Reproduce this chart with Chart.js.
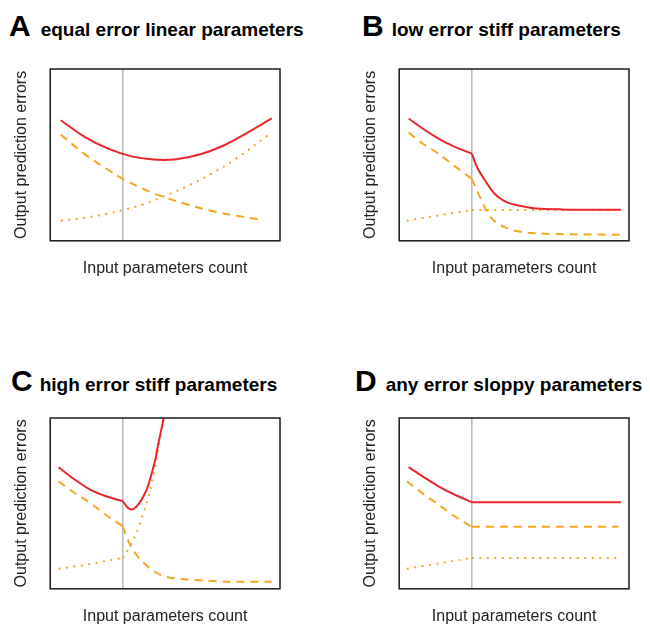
<!DOCTYPE html>
<html>
<head>
<meta charset="utf-8">
<script src="https://cdn.jsdelivr.net/npm/chart.js@4"></script>
<style>
  body { margin: 0; background: #fff; width: 650px; height: 626px; overflow: hidden; font-family: "Liberation Sans", Arial, sans-serif; }
  .panel-title { position: absolute; font-weight: bold; white-space: nowrap; color: #000; line-height: 1; }
  .panel-title .letter { font-size: 30px; }
  .panel-title .txt { font-size: 19px; }
  .box { position: absolute; }
</style>
</head>
<body>
<div class="panel-title" style="left:9px;top:11px"><span class="letter" style="margin-right:10px">A</span><span class="txt">equal error linear parameters</span></div>
<div class="panel-title" style="left:362px;top:11px"><span class="letter" style="margin-right:8px">B</span><span class="txt">low error stiff parameters</span></div>
<div class="panel-title" style="left:11px;top:366px"><span class="letter" style="margin-right:7px">C</span><span class="txt">high error stiff parameters</span></div>
<div class="panel-title" style="left:355px;top:366px"><span class="letter" style="margin-right:9px">D</span><span class="txt">any error sloppy parameters</span></div>

<div class="box" style="left:0px;top:60px;width:300px;height:218px"><canvas id="chartA"></canvas></div>
<div class="box" style="left:349px;top:60px;width:300px;height:218px"><canvas id="chartB"></canvas></div>
<div class="box" style="left:0px;top:409px;width:300px;height:217px"><canvas id="chartC"></canvas></div>
<div class="box" style="left:349px;top:409px;width:300px;height:217px"><canvas id="chartD"></canvas></div>

<script>
// x and y on a 0-100 scale
const cutoff = 31.6;

// A equal error linear parameters
const totalAx = [4.6, 15, 25, 35, 45, 55, 65, 75, 85, 96.4];
const totalAy = [70.2, 60.5, 53.8, 49.3, 47.3, 47.5, 50.2, 55.2, 62.3, 71.2];
const fitAx   = [4.6, 15, 25, 31.6, 40, 49, 60, 70, 80, 93];
const fitAy   = [61.8, 50.5, 41.5, 36.1, 30.5, 25.7, 21, 17.5, 14.8, 12.1];
const predAx  = [4.6, 15, 25, 31.6, 40, 49, 60, 70, 80, 94.7];
const predAy  = [11.7, 13.4, 15.8, 17.9, 21, 25.7, 32, 39, 47, 61.4];

// B low error stiff parameters
const totalBx = [4.1, 10, 17.1, 24, 31.6, 34, 37.4, 40, 43.2, 47, 51.9, 57, 62, 70, 80, 96.5];
const totalBy = [71.2, 65.5, 59.5, 54.8, 50.7, 42.5, 35.1, 29.8, 25.3, 22.4, 20.5, 19.3, 18.6, 18.3, 18.1, 18.1];
const fitBx   = [4.1, 10, 17.1, 24, 31.6, 34.5, 38.8, 42, 46.1, 50, 54.8, 62, 69.3, 80, 96.5];
const fitBy   = [63, 56.8, 50.7, 43.6, 36.1, 27.3, 15.6, 10.8, 7.8, 6, 4.9, 4.2, 3.9, 3.7, 3.5];
const predBx  = [3.3, 10, 17.1, 24, 31.6, 50, 70, 96.5];
const predBy  = [11.7, 13.2, 14.8, 16.3, 17.9, 17.9, 17.9, 17.9];

// C high error stiff parameters
const totalCx = [3.6, 10, 17.4, 24, 31.6, 33.5, 35.5, 38, 40.6, 42.5, 44.2, 45.8, 47.1, 48.5, 50];
const totalCy = [71.2, 64.6, 58.1, 54.3, 51.3, 47.8, 46.4, 48.8, 54.2, 60, 67.8, 76, 85.4, 94, 104];
const fitCx   = [3.6, 10, 17.4, 24, 31.6, 33.5, 35.5, 38, 40.6, 45, 49.3, 54, 59.4, 70, 80, 96.4];
const fitCy   = [63, 56.7, 50.3, 43.5, 36.6, 29.5, 24, 19, 15.2, 10.5, 7.4, 6.2, 5.5, 4.6, 4.1, 4.1];
const predCx  = [3.6, 10, 17.4, 24, 31.6, 33.5, 35.5, 37.5, 39.1, 41, 42.8, 44.3, 45.7, 47.2, 48.6, 50];
const predCy  = [11.7, 13, 14.5, 16.2, 18.1, 22, 26.9, 32.5, 38.6, 46, 54.2, 62.5, 71.7, 83, 95.1, 106];

// D any error sloppy parameters
const totalDx = [4.1, 10, 17.1, 24, 31.6, 96.5];
const totalDy = [71.2, 66, 60, 55.2, 50.7, 50.7];
const fitDx   = [3.3, 10, 17.1, 24, 31.6, 95.4];
const fitDy   = [63, 56, 49.3, 42.5, 36.3, 36.3];
const predDx  = [3.3, 17.1, 31.6, 96.1];
const predDy  = [11.7, 14.8, 18.1, 18.1];

const RED = '#e8262b';
const ORANGE = '#f5a623';
const FONT = '"Liberation Sans", Arial, sans-serif';

function pts(xs, ys) {
  return xs.map((x, i) => ({ x: x, y: ys[i] }));
}

// box round the plot area
const frame = {
  id: 'frame',
  afterDraw(chart) {
    const a = chart.chartArea;
    const ctx = chart.ctx;
    ctx.save();
    ctx.strokeStyle = '#1a1a1a';
    ctx.lineWidth = 1.5;
    ctx.strokeRect(a.left, a.top, a.right - a.left, a.bottom - a.top);
    ctx.restore();
  }
};

// kinked: curves break at the cutoff, so each side is its own smooth piece
function lineSets(xs, ys, style, kinked) {
  const all = pts(xs, ys);
  const parts = kinked ? [all.filter(p => p.x <= cutoff), all.filter(p => p.x >= cutoff)] : [all];
  return parts.map(d => Object.assign({ data: d }, style));
}

function makeChart(id, tx, ty, fx, fy, px, py, kinked) {
  const ctx = document.getElementById(id).getContext('2d');
  const sets = [].concat(
    lineSets(tx, ty, { borderColor: RED, borderWidth: 2 }, kinked),
    lineSets(fx, fy, { borderColor: ORANGE, borderWidth: 2, borderDash: [8, 6] }, kinked),
    lineSets(px, py, { borderColor: ORANGE, borderWidth: 2, borderDash: [2, 5.5] }, kinked),
    [{
      data: [{ x: cutoff, y: 0 }, { x: cutoff, y: 100 }],
      borderColor: '#b8b8b8',
      borderWidth: 1.5,
      tension: 0
    }]
  );
  return new Chart(ctx, {
    type: 'line',
    data: { datasets: sets },
    options: {
      responsive: true,
      maintainAspectRatio: false,
      animation: false,
      layout: { padding: { left: 0, top: 9, right: 20, bottom: 0 } },
      elements: {
        point: { radius: 0 },
        line: { cubicInterpolationMode: kinked ? 'monotone' : 'default', tension: 0.4, fill: false }
      },
      scales: {
        x: {
          type: 'linear',
          min: 0,
          max: 100,
          grid: { display: false, drawTicks: false, tickLength: 0 },
          border: { display: false },
          ticks: { display: false },
          title: {
            display: true,
            text: 'Input parameters count',
            color: '#222',
            font: { family: FONT, size: 16 },
            padding: { top: 18, bottom: 0 }
          }
        },
        y: {
          min: 0,
          max: 100,
          grid: { display: false, drawTicks: false, tickLength: 0 },
          border: { display: false },
          ticks: { display: false },
          title: {
            display: true,
            text: 'Output prediction errors',
            color: '#222',
            font: { family: FONT, size: 16 },
            padding: { top: 12, bottom: 19 }
          }
        }
      },
      plugins: {
        legend: { display: false },
        tooltip: { enabled: false }
      }
    },
    plugins: [frame]
  });
}

makeChart('chartA', totalAx, totalAy, fitAx, fitAy, predAx, predAy, false);
makeChart('chartB', totalBx, totalBy, fitBx, fitBy, predBx, predBy, true);
makeChart('chartC', totalCx, totalCy, fitCx, fitCy, predCx, predCy, true);
makeChart('chartD', totalDx, totalDy, fitDx, fitDy, predDx, predDy, true);
</script>
</body>
</html>
